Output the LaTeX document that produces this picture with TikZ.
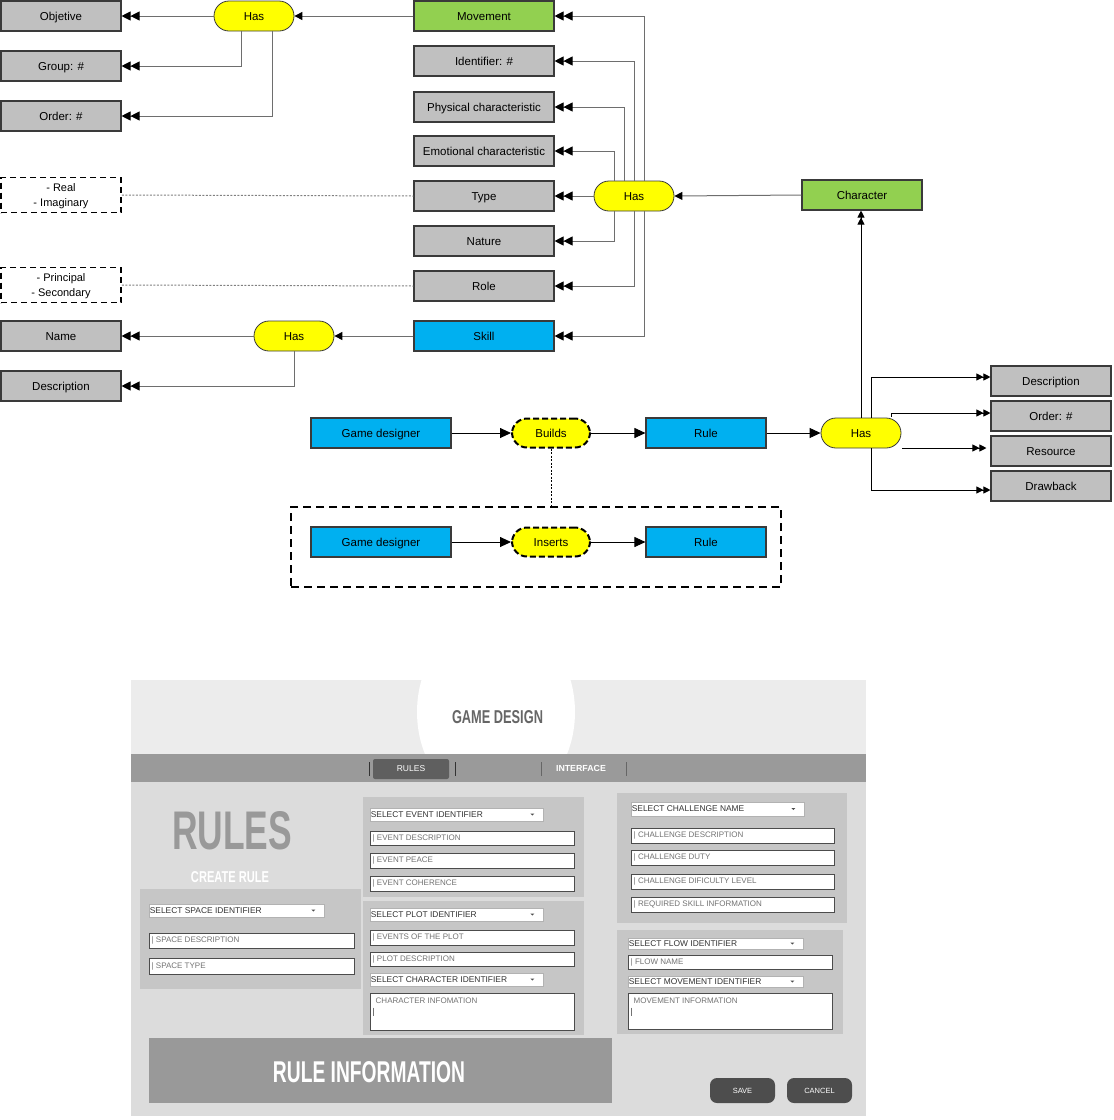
\documentclass[tikz,border=0pt]{standalone}
\usepackage{fontspec}
\setmainfont{Liberation Sans}
\usepackage{graphicx}
\usetikzlibrary{arrows.meta,calc}
\definecolor{boxgray}{HTML}{C0C0C0}
\definecolor{bord}{HTML}{3A3A3A}
\definecolor{grn}{HTML}{92D050}
\definecolor{blu}{HTML}{00B0F0}
\definecolor{ylw}{HTML}{FFFF00}
\definecolor{lnc}{HTML}{6E6E6E}
\definecolor{hdr}{HTML}{ECECEC}
\definecolor{band}{HTML}{9A9A9A}
\definecolor{uibody}{HTML}{DCDCDC}
\definecolor{pnl}{HTML}{C6C6C6}
\definecolor{tabd}{HTML}{5F5F5F}
\definecolor{btn}{HTML}{4D4D4D}
\definecolor{bigtxt}{HTML}{999999}
\definecolor{gdtxt}{HTML}{666666}
\newcommand{\uifld}[6]{%
  \node[fieldbox, minimum width={#4-#2}, minimum height={#5-#3}] (#1) at ({(#2+#4)/2},{(#3+#5)/2}) {};
  \node[fieldtxt, anchor=west] (#1t) at ($(#1.west)+(3,0)$) {#6};}
\newcommand{\uidd}[6]{%
  \node[ddbox, minimum width={#4-#2}, minimum height={#5-#3}] (#1) at ({(#2+#4)/2},{(#3+#5)/2}) {};
  \node[ddtxt, anchor=west] (#1t) at ($(#1.west)+(1,0)$) {#6};
  \fill[black!70] ($(#1.east)+(-13,-1)$) -- ++(4,0) -- ++(-2,2) -- cycle;}
\newcommand{\uiarea}[6]{%
  \node[fieldbox, minimum width={#4-#2}, minimum height={#5-#3}] (#1) at ({(#2+#4)/2},{(#3+#5)/2}) {};
  \node[fieldtxt, anchor=north west] (#1t) at ($(#1.north west)+(6,5)$) {#6};
  \draw[black!55, line width=0.6pt] ($(#1.north west)+(4,15)$) -- ++(0,8);}
\begin{document}
\begin{tikzpicture}[x=1pt,y=-1pt,
  box/.style={draw=bord, line width=1.1pt, minimum width=120pt, minimum height=30pt, inner sep=0pt, text height=8.2pt, text depth=0pt, font=\fontsize{11.5}{13.8}\selectfont},
  gbox/.style={box, fill=boxgray},
  wide/.style={minimum width=140pt},
  has/.style={draw=bord, line width=0.8pt, fill=ylw, rounded corners=15pt, minimum width=80pt, minimum height=30pt, inner sep=0pt, text height=8.2pt, text depth=0pt, font=\fontsize{11.5}{13.8}\selectfont},
  act/.style={draw=black, fill=ylw, line width=2pt, dash pattern=on 6pt off 3pt, rounded corners=15pt, minimum width=78pt, minimum height=29pt, inner sep=0pt, text height=8.2pt, text depth=0pt, font=\fontsize{11.5}{13.8}\selectfont},
  note/.style={draw=black, line width=1.8pt, dash pattern=on 6pt off 4pt, minimum width=120pt, minimum height=35pt, inner sep=0pt, align=center, font=\fontsize{11}{15}\selectfont},
  container/.style={draw=black, line width=2.2pt, dash pattern=on 8pt off 5pt, minimum width=490pt, minimum height=80pt, inner sep=0pt},
  cl/.style={draw=lnc, line width=1pt},
  bl/.style={draw=black, line width=0.9pt},
  dbl/.style={-{Triangle[length=9pt,width=9pt,color=black]Triangle[length=9pt,width=9pt,color=black]}},
  sdbl/.style={-{Triangle[length=7pt,width=7pt,color=black]Triangle[length=7pt,width=7pt,color=black]}},
  sgl/.style={-{Triangle[length=8pt,width=8pt,color=black]}},
  bsgl/.style={-{Triangle[length=11pt,width=10pt,color=black]}},
  dotline/.style={draw=gray, line width=1pt, dash pattern=on 2pt off 1.5pt},
  fieldbox/.style={draw=black!70, fill=white, line width=1pt, inner sep=0pt},
  ddbox/.style={draw=black!30, fill=white, line width=0.7pt, inner sep=0pt},
  fieldtxt/.style={text=black!55, inner sep=0pt, font=\fontsize{8}{9}\selectfont},
  ddtxt/.style={text=black!80, inner sep=0pt, font=\fontsize{8.4}{10}\selectfont},
  bigt/.style={inner sep=0pt, font=\bfseries}
]
\useasboundingbox (0,0) rectangle (1114,1120);

% ---------- top diagram ----------
\node[gbox] (objetive) at (61,16) {Objetive};
\node[gbox] (group) at (61,66) {Group: \#};
\node[gbox] (order) at (61,116) {Order: \#};
\node[has] (has1) at (254,16) {Has};
\node[box, wide, fill=grn] (movement) at (484,16) {Movement};
\node[gbox, wide] (ident) at (484,61) {Identifier: \#};
\node[gbox, wide] (phys) at (484,107) {Physical characteristic};
\node[gbox, wide] (emo) at (484,151) {Emotional characteristic};
\node[gbox, wide] (type) at (484,196) {Type};
\node[gbox, wide] (nature) at (484,241) {Nature};
\node[gbox, wide] (role) at (484,286) {Role};
\node[box, wide, fill=blu] (skill) at (484,336) {Skill};
\node[has] (has2) at (634,196) {Has};
\node[box, fill=grn] (character) at (862,195) {Character};
\node[note] (realim) at (61,195) {\strut- Real\\- Imaginary};
\node[note] (prinsec) at (61,285) {\strut- Principal\\- Secondary};
\node[gbox] (name) at (61,336) {Name};
\node[gbox] (desc1) at (61,386) {Description};
\node[has] (has3) at (294,336) {Has};

\node[container] (cont) at (536,547) {};
\node[box, wide, fill=blu] (gd1) at (381,433) {Game designer};
\node[act] (builds) at (551,433) {Builds};
\node[box, fill=blu] (rule1) at (706,433) {Rule};
\node[has] (has4) at (861,433) {Has};
\node[gbox] (desc2) at (1051,381) {Description};
\node[gbox] (order2) at (1051,416) {Order: \#};
\node[gbox] (resource) at (1051,451) {Resource};
\node[gbox] (drawback) at (1051,486) {Drawback};
\node[box, wide, fill=blu] (gd2) at (381,542) {Game designer};
\node[act] (inserts) at (551,542) {Inserts};
\node[box, fill=blu] (rule2) at (706,542) {Rule};

% connectors
\draw[cl, sgl] (movement.west) -- (has1.east);
\draw[cl, dbl] (has1.west) -- (objetive.east);
\draw[cl, dbl] ($(has1.south)+(-13,0)$) |- (group.east);
\draw[cl, dbl] ($(has1.south)+(18,0)$) |- (order.east);

\draw[cl, dbl] ($(has2.north)+(10,0)$) |- (movement.east);
\draw[cl, dbl] (has2.north) |- (ident.east);
\draw[cl, dbl] ($(has2.north)+(-10,0)$) |- (phys.east);
\draw[cl, dbl] ($(has2.north)+(-20,0)$) |- (emo.east);
\draw[cl, dbl] (has2.west) -- (type.east);
\draw[cl, dbl] ($(has2.south)+(-20,0)$) |- (nature.east);
\draw[cl, dbl] (has2.south) |- (role.east);
\draw[cl, dbl] ($(has2.south)+(10,0)$) |- (skill.east);
\draw[cl, sgl] (character.west) -- (has2.east);

\draw[dotline] (realim.east) -- (type.west);
\draw[dotline] (prinsec.east) -- (role.west);

\draw[cl, sgl] (skill.west) -- (has3.east);
\draw[cl, dbl] (has3.west) -- (name.east);
\draw[cl, dbl] (has3.south) |- (desc1.east);

\draw[bl, bsgl] (gd1.east) -- (builds.west);
\draw[bl, bsgl] (builds.east) -- (rule1.west);
\draw[bl, bsgl] (rule1.east) -- (has4.west);
\draw[bl, bsgl] (gd2.east) -- (inserts.west);
\draw[bl, bsgl] (inserts.east) -- (rule2.west);
\draw[draw=black, line width=0.8pt, dash pattern=on 2pt off 1.5pt] (builds.south) -- (builds.south |- cont.north);

\draw[bl, sdbl] (has4.north) -- (has4.north |- character.south);
\draw[bl, sdbl] ($(has4.north)+(10,0)$) |- ($(desc2.west)+(0,-4)$);
\draw[bl, sdbl] ($(has4.north)+(30,-1)$) |- ($(order2.west)+(0,-3)$);
\draw[bl, sdbl] ($(has4.east)+(1,15)$) -- ($(resource.west)+(-4,-3)$);
\draw[bl, sdbl] ($(has4.south)+(10,0)$) |- ($(drawback.west)+(0,4)$);

% ---------- UI mock-up ----------
\fill[hdr] (131,680) rectangle (866,754);
\begin{scope}
  \clip (131,680) rectangle (866,754);
  \fill[white] (496,712) ellipse [x radius=79, y radius=96];
\end{scope}
\fill[band] (131,754) rectangle (866,782);
\fill[uibody] (131,782) rectangle (866,1116);
\node[bigt, text=gdtxt] (gametitle) at (497.5,717.5) {\resizebox{91pt}{13pt}{\bfseries GAME DESIGN}};

\node[fill=tabd, rounded corners=2pt, minimum width=76pt, minimum height=20pt, inner sep=0pt, text=white, font=\fontsize{8.5}{9}\selectfont] (tabrules) at (411,769) {RULES};
\node[inner sep=0pt, text=white, font=\bfseries\fontsize{8.8}{9}\selectfont] (tabinterface) at (581,768) {INTERFACE};
\draw[black!80, line width=1pt] (369,762) -- (369,776);
\draw[black!80, line width=1pt] (455,762) -- (455,776);
\draw[black!60, line width=0.8pt] (541,762) -- (541,776);
\draw[black!60, line width=0.8pt] (626,762) -- (626,776);

\node[bigt, text=bigtxt] (rulestitle) at (232,831) {\resizebox{120pt}{38pt}{\bfseries RULES}};
\node[bigt, text=white] (createrule) at (230,877.5) {\resizebox{78pt}{11pt}{\bfseries CREATE RULE}};

% left panel
\fill[pnl] (140,889) rectangle (361,989);
\uidd{ssi}{149}{904}{324}{917}{SELECT SPACE IDENTIFIER}
\uifld{sdesc}{149}{933}{354}{948}{| SPACE DESCRIPTION}
\uifld{stype}{149}{958}{354}{974}{| SPACE TYPE}

% event panel
\fill[pnl] (363,797) rectangle (584,897);
\uidd{sei}{370}{808}{543}{821}{SELECT EVENT IDENTIFIER}
\uifld{edesc}{370}{831}{574}{845}{| EVENT DESCRIPTION}
\uifld{epeace}{370}{853}{574}{868}{| EVENT PEACE}
\uifld{ecoh}{370}{876}{574}{891}{| EVENT COHERENCE}

% plot panel
\fill[pnl] (363,901) rectangle (584,1035);
\uidd{spi}{370}{908}{543}{921}{SELECT PLOT IDENTIFIER}
\uifld{eplot}{370}{930}{574}{945}{| EVENTS OF THE PLOT}
\uifld{pdesc}{370}{952}{574}{966}{| PLOT DESCRIPTION}
\uidd{sci}{370}{973}{543}{986}{SELECT CHARACTER IDENTIFIER}
\uiarea{cinfo}{370}{993}{574}{1030}{CHARACTER INFOMATION}

% challenge panel
\fill[pnl] (617,793) rectangle (847,923);
\uidd{scn}{631}{802}{804}{816}{SELECT CHALLENGE NAME}
\uifld{cdesc}{631}{828}{834}{843}{| CHALLENGE DESCRIPTION}
\uifld{cduty}{631}{850}{834}{865}{| CHALLENGE DUTY}
\uifld{cdif}{631}{874}{834}{889}{| CHALLENGE DIFICULTY LEVEL}
\uifld{rskill}{631}{897}{834}{912}{| REQUIRED SKILL INFORMATION}

% flow panel
\fill[pnl] (617,930) rectangle (843,1034);
\uidd{sfi}{628}{938}{803}{949}{SELECT FLOW IDENTIFIER}
\uifld{fname}{628}{955}{832}{969}{| FLOW NAME}
\uidd{smi}{628}{976}{803}{987}{SELECT MOVEMENT IDENTIFIER}
\uiarea{minfo}{628}{993}{832}{1029}{MOVEMENT INFORMATION}

% rule information
\fill[bigtxt] (149,1038) rectangle (612,1103);
\node[bigt, text=white] (ruleinfo) at (369,1072.5) {\resizebox{192pt}{21pt}{\bfseries RULE INFORMATION}};

\node[fill=btn, rounded corners=7pt, minimum width=65pt, minimum height=25pt, inner sep=0pt, text=white, font=\fontsize{7.5}{9}\selectfont] (save) at (742.5,1090.5) {SAVE};
\node[fill=btn, rounded corners=7pt, minimum width=65pt, minimum height=25pt, inner sep=0pt, text=white, font=\fontsize{7.5}{9}\selectfont] (cancel) at (819.5,1090.5) {CANCEL};
\end{tikzpicture}
\end{document}
